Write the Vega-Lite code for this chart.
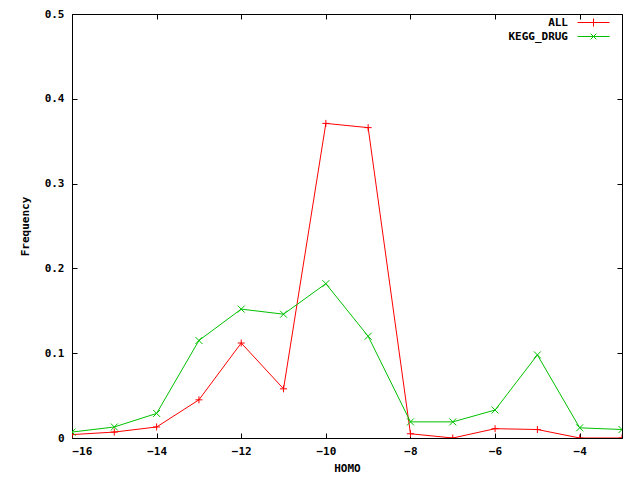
{
  "$schema": "https://vega.github.io/schema/vega-lite/v6.json",
  "width": 550,
  "height": 424,
  "autosize": {"type": "none"},
  "padding": {"left": 72, "top": 14, "right": 18, "bottom": 42},
  "background": "white",
  "config": {
    "view": {"stroke": "#000", "strokeWidth": 1},
    "font": "DejaVu Sans Mono",
    "axis": {
      "domain": false,
      "grid": false,
      "tickColor": "#000",
      "tickSize": -5,
      "labelFont": "DejaVu Sans Mono",
      "labelFontWeight": "bold",
      "labelFontSize": 11,
      "labelColor": "#000",
      "titleFont": "DejaVu Sans Mono",
      "titleFontWeight": "bold",
      "titleFontSize": 11,
      "titleColor": "#000"
    }
  },
  "data": {
    "values": [
      {"homo": -16, "freq": 0.004, "series": "ALL"},
      {"homo": -15, "freq": 0.007, "series": "ALL"},
      {"homo": -14, "freq": 0.013, "series": "ALL"},
      {"homo": -13, "freq": 0.045, "series": "ALL"},
      {"homo": -12, "freq": 0.112, "series": "ALL"},
      {"homo": -11, "freq": 0.058, "series": "ALL"},
      {"homo": -10, "freq": 0.371, "series": "ALL"},
      {"homo": -9, "freq": 0.366, "series": "ALL"},
      {"homo": -8, "freq": 0.005, "series": "ALL"},
      {"homo": -7, "freq": 0.0, "series": "ALL"},
      {"homo": -6, "freq": 0.011, "series": "ALL"},
      {"homo": -5, "freq": 0.010, "series": "ALL"},
      {"homo": -4, "freq": 0.0, "series": "ALL"},
      {"homo": -3, "freq": 0.0, "series": "ALL"},
      {"homo": -16, "freq": 0.007, "series": "KEGG_DRUG"},
      {"homo": -15, "freq": 0.013, "series": "KEGG_DRUG"},
      {"homo": -14, "freq": 0.029, "series": "KEGG_DRUG"},
      {"homo": -13, "freq": 0.115, "series": "KEGG_DRUG"},
      {"homo": -12, "freq": 0.152, "series": "KEGG_DRUG"},
      {"homo": -11, "freq": 0.146, "series": "KEGG_DRUG"},
      {"homo": -10, "freq": 0.182, "series": "KEGG_DRUG"},
      {"homo": -9, "freq": 0.120, "series": "KEGG_DRUG"},
      {"homo": -8, "freq": 0.019, "series": "KEGG_DRUG"},
      {"homo": -7, "freq": 0.019, "series": "KEGG_DRUG"},
      {"homo": -6, "freq": 0.033, "series": "KEGG_DRUG"},
      {"homo": -5, "freq": 0.098, "series": "KEGG_DRUG"},
      {"homo": -4, "freq": 0.012, "series": "KEGG_DRUG"},
      {"homo": -3, "freq": 0.010, "series": "KEGG_DRUG"}
    ]
  },
  "resolve": {"axis": {"x": "independent", "y": "independent"}},
  "layer": [
    {
      "mark": {"type": "line", "strokeWidth": 1, "clip": true},
      "encoding": {
        "x": {
          "field": "homo", "type": "quantitative",
          "scale": {"domain": [-16, -3], "nice": false, "zero": false},
          "axis": {"title": "HOMO", "values": [-16, -14, -12, -10, -8, -6, -4], "labelPadding": 12, "titlePadding": 6}
        },
        "y": {
          "field": "freq", "type": "quantitative",
          "scale": {"domain": [0, 0.5], "nice": false},
          "axis": {"title": "Frequency", "values": [0, 0.1, 0.2, 0.3, 0.4, 0.5], "labelExpr": "datum.value == 0 ? '0' : format(datum.value, '.1f')", "labelPadding": 13, "titlePadding": 14}
        },
        "color": {
          "field": "series", "type": "nominal",
          "scale": {"domain": ["ALL", "KEGG_DRUG"], "range": ["#ff0000", "#00c000"]},
          "legend": {
            "title": null,
            "orient": "none",
            "legendX": 508,
            "legendY": 3,
            "symbolType": "M-2,0H6M2,-1V1",
            "symbolSize": 64,
            "symbolStrokeWidth": 1,
            "symbolFillColor": "transparent",
            "labelAlign": "right",
            "labelOffset": -23,
            "labelFont": "DejaVu Sans Mono",
            "labelFontWeight": "bold",
            "labelFontSize": 11,
            "labelColor": "#000",
            "rowPadding": 1,
            "encode": {
              "symbols": {
                "update": {
                  "shape": {"signal": "datum.value == 'ALL' ? 'M-2,0H6M2,-1V1' : 'M-2,0H6M1.3,-0.7L2.7,0.7M1.3,0.7L2.7,-0.7'"},
                  "stroke": {"signal": "datum.value == 'ALL' ? '#ff0000' : '#00c000'"},
                  "opacity": {"value": 1}
                }
              }
            }
          }
        }
      }
    },
    {
      "transform": [{"filter": "datum.series == 'ALL'"}],
      "mark": {"type": "point", "filled": false, "strokeWidth": 1, "size": 49, "opacity": 1, "clip": true, "color": "#ff0000", "shape": "M-1,0H1M0,-1V1"},
      "encoding": {
        "x": {"field": "homo", "type": "quantitative", "axis": null},
        "y": {"field": "freq", "type": "quantitative", "axis": null}
      }
    },
    {
      "transform": [{"filter": "datum.series == 'KEGG_DRUG'"}],
      "mark": {"type": "point", "filled": false, "strokeWidth": 1, "size": 49, "opacity": 1, "clip": true, "color": "#00c000", "shape": "M-1,-1L1,1M-1,1L1,-1"},
      "encoding": {
        "x": {"field": "homo", "type": "quantitative", "axis": null},
        "y": {"field": "freq", "type": "quantitative", "axis": null}
      }
    },
    {
      "mark": {"type": "line", "opacity": 0},
      "encoding": {
        "x": {"field": "homo", "type": "quantitative", "axis": {"orient": "top", "labels": false, "title": null, "values": [-16, -14, -12, -10, -8, -6, -4]}},
        "y": {"field": "freq", "type": "quantitative", "axis": {"orient": "right", "labels": false, "title": null, "values": [0, 0.1, 0.2, 0.3, 0.4, 0.5]}},
        "detail": {"field": "series"}
      }
    }
  ]
}
